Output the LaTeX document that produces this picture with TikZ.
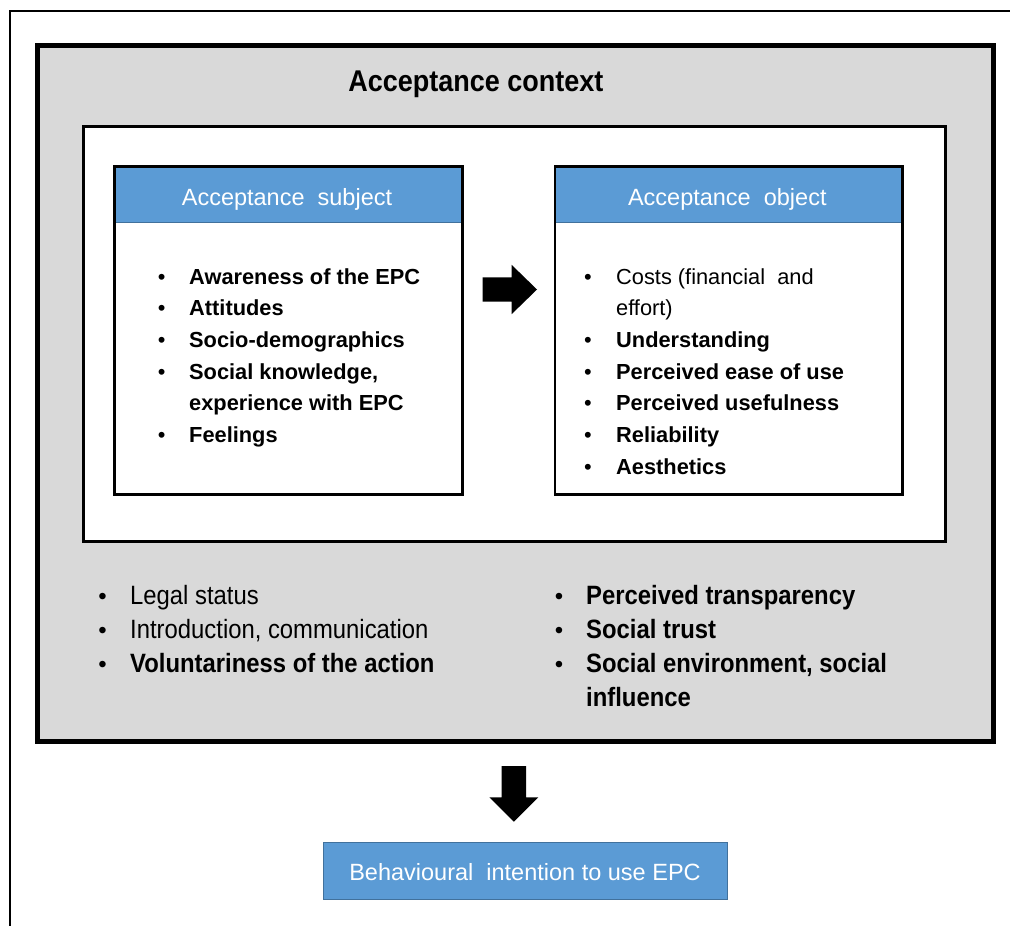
\documentclass[tikz,border=0pt]{standalone}
\usepackage{fontspec}
\setmainfont{Liberation Sans}
\newfontfamily\condsans[FakeStretch=0.9]{Liberation Sans}
\usetikzlibrary{positioning}
\definecolor{ctxgray}{HTML}{D9D9D9}
\definecolor{headblue}{HTML}{5B9BD5}
\definecolor{headedge}{HTML}{41719C}

\begin{document}
\begin{tikzpicture}[x=1pt,y=-1pt,
  ctxbox/.style={draw,line width=5pt,fill=ctxgray,inner sep=0pt,anchor=north west},
  corebox/.style={draw,line width=3pt,fill=white,inner sep=0pt,anchor=north west},
  listbox/.style={draw,line width=2.5pt,inner sep=0pt,anchor=north west,
    minimum width=348pt,minimum height=328pt},
  headbox/.style={fill=headblue,draw=headedge,line width=0.8pt,inner sep=0pt,
    anchor=north west,minimum width=348pt,minimum height=57pt},
  headtext/.style={anchor=base,inner sep=0pt,text=white,
    font=\fontsize{23.5}{28}\selectfont},
  boxline/.style={anchor=base west,inner sep=0pt,font=\fontsize{21.8}{26}\selectfont},
  boxdot/.style={anchor=base,inner sep=0pt,font=\fontsize{21.8}{26}\selectfont},
  ctxline/.style={anchor=base west,inner sep=0pt,
    font=\condsans\fontsize{26.5}{32}\selectfont},
  ctxdot/.style={anchor=base,inner sep=0pt,font=\fontsize{24}{30}\selectfont}]
 \useasboundingbox (0,0) rectangle (1010,926);
 \path (10,926) coordinate (fbl) (10,11) coordinate (ftl) (1010,11) coordinate (ftr);
 \draw[line width=2pt] (fbl) -- (ftl) -- (ftr);
 % acceptance context
 \node[ctxbox,minimum width=956.5pt,minimum height=696.5pt] (context) at (34.5,42.5) {};
 \node[anchor=base,inner sep=0pt,font=\condsans\bfseries\fontsize{30}{36}\selectfont]
   (ctxtitle) at (475.9,91.7) {Acceptance context};
 \node[corebox,minimum width=862.5pt,minimum height=415.5pt] (core) at (81.5,124.5) {};
 % subject and object boxes
 \node[headbox] (subjhead) at (113,165) {};
 \node[listbox] (subj) at (113,165) {};
 \node[headtext] (subjtitle) at (287,205) {Acceptance\ \ subject};
 \node[headbox,minimum width=347.5pt] (objhead) at (553.5,165) {};
 \node[listbox,minimum width=347.5pt] (obj) at (553.5,165) {};
 \node[headtext] (objtitle) at (727.3,205) {Acceptance\ \ object};
 \foreach \i/\t in {0/\textbf{Awareness of the EPC},1/\textbf{Attitudes},
   2/\textbf{Socio-demographics},3/\textbf{Social knowledge,},
   4/\textbf{experience with EPC},5/\textbf{Feelings}}
  {\node[boxline] (subj-\i) at (189,284+31.7*\i) {\t};}
 \foreach \i in {0,1,2,3,5}
  {\node[boxdot] (subjdot-\i) at (161.7,284+31.7*\i) {\textbullet};}
 \foreach \i/\t in {0/Costs (financial\ \ and,1/effort),2/\textbf{Understanding},
   3/\textbf{Perceived ease of use},4/\textbf{Perceived usefulness},
   5/\textbf{Reliability},6/\textbf{Aesthetics}}
  {\node[boxline] (obj-\i) at (616,284+31.7*\i) {\t};}
 \foreach \i in {0,2,3,4,5,6}
  {\node[boxdot] (objdot-\i) at (588,284+31.7*\i) {\textbullet};}
 % block arrow subject -> object
 \coordinate (rtail) at (482.7,289.5);
 \fill (rtail) ++(0,-12.2) -- ++(29,0) -- ++(0,-12.4) -- ++(25.3,24.6)
   -- ++(-25.3,24.6) -- ++(0,-12.4) -- ++(-29,0) -- cycle;
 % context factors
 \foreach \i/\t in {0/Legal status,1/{Introduction, communication},
   2/\textbf{Voluntariness of the action}}
  {\node[ctxline] (left-\i) at (130,604.3+34*\i) {\t};
   \node[ctxdot] (leftdot-\i) at (102.5,604.3+34*\i) {\textbullet};}
 \foreach \i/\t in {0/\textbf{Perceived transparency},1/\textbf{Social trust},
   2/\textbf{Social environment, social},3/\textbf{influence}}
  {\node[ctxline] (right-\i) at (586,604.3+34*\i) {\t};}
 \foreach \i in {0,1,2}
  {\node[ctxdot] (rightdot-\i) at (559,604.3+34*\i) {\textbullet};}
 % block arrow context -> intention
 \coordinate (dtail) at (513.85,766);
 \fill (dtail) ++(-12.15,0) -- ++(0,31.3) -- ++(-12.3,0) -- ++(24.45,24.4)
   -- ++(24.45,-24.4) -- ++(-12.3,0) -- ++(0,-31.3) -- cycle;
 \node[headbox,minimum width=404.6pt,minimum height=57.3pt] (intent) at (322.7,841.7) {};
 \node[headtext] (intenttext) at (525,880.7) {Behavioural\ \ intention to use EPC};
\end{tikzpicture}
\end{document}
